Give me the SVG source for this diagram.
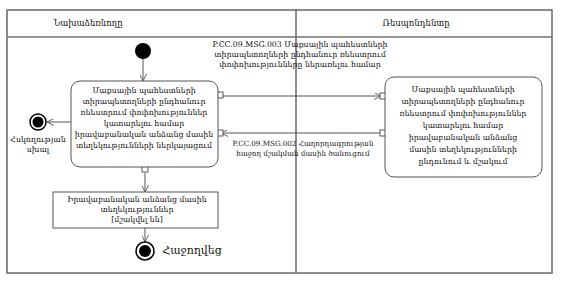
<svg xmlns="http://www.w3.org/2000/svg" width="563" height="281" viewBox="0 0 563 281">
<style>
text{font-family:"DejaVu Serif","Noto Sans",serif;fill:#111;text-anchor:middle}
.t{font-size:7.8px}
.s{font-size:7.2px}
.h{font-size:8.5px}
.lane{fill:none;stroke:#707070;stroke-width:1.6}
.node{fill:#fff;stroke:#555;stroke-width:1}
.c{fill:none;stroke:#555;stroke-width:1}
.port{fill:#fff;stroke:#444;stroke-width:0.9}
</style>
<defs>
<marker id="a" viewBox="0 0 10 10" refX="10" refY="5" markerWidth="7" markerHeight="7" orient="auto-start-reverse" markerUnits="userSpaceOnUse">
<path d="M0,0 L10,5 L0,10" fill="none" stroke="#555" stroke-width="1.3"/>
</marker>
</defs>
<rect width="563" height="281" fill="#fff"/>
<g id="lanes">
<rect class="lane" x="7" y="10" width="545" height="263"/>
<line class="lane" x1="7" y1="37" x2="552" y2="37"/>
<line class="lane" x1="296" y1="10" x2="296" y2="273"/>
<text class="h" x="88" y="26">Նախաձեռնողը</text>
<text class="h" x="416" y="26">Ռեսպոնդենտը</text>
</g>
<g id="connectors">
<line class="c" x1="143" y1="59" x2="143" y2="81" marker-end="url(#a)"/>
<line class="c" x1="221" y1="96" x2="381" y2="96" marker-end="url(#a)"/>
<line class="c" x1="381" y1="133" x2="221" y2="133" marker-end="url(#a)"/>
<line class="c" x1="71" y1="122" x2="47" y2="122" marker-end="url(#a)"/>
<line class="c" x1="145" y1="173" x2="145" y2="192" marker-end="url(#a)"/>
<line class="c" x1="145" y1="228" x2="145" y2="242" marker-end="url(#a)"/>
<rect class="port" x="217" y="92" width="6" height="6"/>
<rect class="port" x="380" y="93" width="6" height="6"/>
<rect class="port" x="380" y="130" width="6" height="6"/>
<rect class="port" x="217" y="130" width="6" height="6"/>
<rect class="port" x="142" y="166" width="6" height="6"/>
<text class="t" x="300" y="47">P.CC.09.MSG.003 Մաքսային պահեստների</text>
<text class="t" x="300" y="57">տիրապետողների ընդհանուր ռեեստրում</text>
<text class="t" x="300" y="67">փոփոխությունները ներառելու համար</text>
<text class="s" x="303" y="146">P.CC.09.MSG.002 Հաղորդագրության</text>
<text class="s" x="303" y="156">հաջող մշակման մասին ծանուցում</text>
</g>
<g id="start">
<circle cx="143" cy="51" r="8" fill="#000"/>
</g>
<g id="n1">
<rect class="node" x="71" y="81" width="147" height="86" rx="9"/>
<text class="t" x="144" y="93">Մաքսային պահեստների</text>
<text class="t" x="144" y="104">տիրապետողների ընդհանուր</text>
<text class="t" x="144" y="115">ռեեստրում փոփոխություններ</text>
<text class="t" x="144" y="126">կատարելու համար</text>
<text class="t" x="144" y="137">իրավաբանական անձանց մասին</text>
<text class="t" x="144" y="148">տեղեկությունների ներկայացում</text>
</g>
<g id="n2">
<rect class="node" x="385" y="77" width="157" height="100" rx="9"/>
<text class="t" x="463" y="92">Մաքսային պահեստների</text>
<text class="t" x="463" y="104">տիրապետողների ընդհանուր</text>
<text class="t" x="463" y="116">ռեեստրում փոփոխություններ</text>
<text class="t" x="463" y="128">կատարելու համար</text>
<text class="t" x="463" y="140">իրավաբանական անձանց</text>
<text class="t" x="463" y="152">մասին տեղեկությունների</text>
<text class="t" x="463" y="164">ընդունում և մշակում</text>
</g>
<g id="err">
<circle cx="38" cy="122" r="8" fill="#fff" stroke="#000" stroke-width="1.5"/>
<circle cx="38" cy="122" r="5.5" fill="#000"/>
<text class="t" x="38" y="142">Հսկողության</text>
<text class="t" x="38" y="152">սխալ</text>
</g>
<g id="n3">
<rect class="node" x="53" y="192" width="165" height="36"/>
<text class="t" x="137" y="202">Իրավաբանական անձանց մասին</text>
<text class="t" x="137" y="212">տեղեկություններ</text>
<text class="t" x="137" y="222">[մշակվել են]</text>
</g>
<g id="ok">
<circle cx="145" cy="251" r="9" fill="#fff" stroke="#000" stroke-width="1.5"/>
<circle cx="145" cy="251" r="6" fill="#000"/>
<text x="192" y="254" style="font-size:11px">Հաջողվեց</text>
</g>
</svg>
